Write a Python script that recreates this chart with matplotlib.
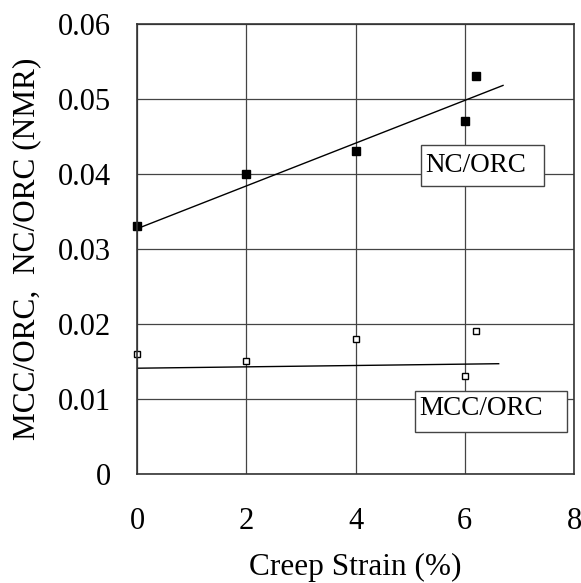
import numpy as np
import matplotlib.pyplot as plt
from matplotlib.patches import Rectangle

plt.rcParams['font.family'] = ['Liberation Serif', 'DejaVu Serif']

strain = [0, 2, 4, 6, 6.2]
nc_orc = [0.033, 0.040, 0.043, 0.047, 0.053]
mcc_orc = [0.016, 0.015, 0.018, 0.013, 0.019]

trend_x = [0, 6.7]
nc_trend = [0.0327, 0.0518]
mcc_trend_x = [0, 6.62]
mcc_trend = [0.0141, 0.0147]

fig = plt.figure(figsize=(5.81, 5.83), dpi=100)
ax = fig.add_axes([0.236, 0.187, 0.752, 0.772])

ax.grid(True, color='#444444', linewidth=0.9)
ax.set_axisbelow(True)

ax.plot(trend_x, nc_trend, color='black', linewidth=1.0)
ax.plot(mcc_trend_x, mcc_trend, color='black', linewidth=1.0)
ax.plot(strain, nc_orc, 's', color='black', markersize=6.3, linestyle='none', clip_on=False)
ax.plot(strain, mcc_orc, 's', markerfacecolor='white', markeredgecolor='black',
        markeredgewidth=1.0, markersize=4.8, linestyle='none', clip_on=False)

ax.set_xlim(0, 8)
ax.set_ylim(0, 0.06)
ax.set_xticks([0, 2, 4, 6, 8])
ax.set_yticks([0, 0.01, 0.02, 0.03, 0.04, 0.05, 0.06])
ax.set_yticklabels(['0', '0.01', '0.02', '0.03', '0.04', '0.05', '0.06'])
ax.tick_params(length=0, labelsize=22)
ax.tick_params(axis='y', pad=19)
ax.tick_params(axis='x', pad=24)
for s in ax.spines.values():
    s.set_color('#333333')
    s.set_linewidth(1.2)

ax.set_xlabel('Creep Strain (%)', fontsize=22.5, labelpad=12)
ax.set_ylabel('MCC/ORC,  NC/ORC (NMR)', fontsize=22.5, labelpad=12)

# label boxes
ax.add_patch(Rectangle((5.19, 0.0384), 2.26, 0.0055, facecolor='white',
                       edgecolor='#444444', linewidth=1.0, zorder=3))
ax.text(5.27, 0.0403, 'NC/ORC', fontsize=19.5, va='baseline', zorder=4)
ax.add_patch(Rectangle((5.08, 0.00564), 2.8, 0.00546, facecolor='white',
                       edgecolor='#444444', linewidth=1.0, zorder=3))
ax.text(5.17, 0.00787, 'MCC/ORC', fontsize=19.5, va='baseline', zorder=4)

fig.savefig('out.png', dpi=100)
